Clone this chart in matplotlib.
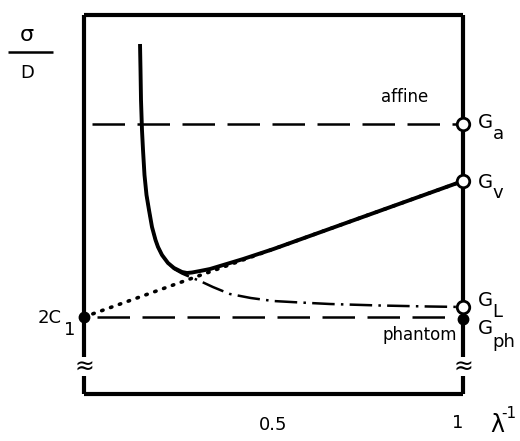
import matplotlib
matplotlib.use("Agg")
import matplotlib.pyplot as plt

# reduced stress vs inverse extension ratio (values in arbitrary units)
C2_1 = 77.0        # 2C1 intercept
G_ph = 77.0
G_L = 87.0
G_v = 213.0
G_a = 270.0

# measured curve (solid)
meas_x = [0.1478, 0.1491, 0.1504, 0.1530, 0.1557, 0.1596, 0.1649, 0.1715,
          0.1794, 0.1887, 0.1953, 0.2058, 0.2216, 0.2375, 0.2586, 0.2718,
          0.2850, 0.3061, 0.3325, 0.42, 0.50, 0.75, 1.00]
meas_y = [350, 324, 294, 264, 244, 219, 199, 184,
          167, 154, 147, 139, 131, 126, 122, 121,
          121.5, 123, 125, 135, 145, 179, 213]

# dash-dot curve (tends to G_L)
dd_x = [0.1649, 0.1715, 0.1794, 0.1887, 0.1953, 0.2058, 0.2216, 0.2375,
        0.2586, 0.280, 0.306, 0.340, 0.385, 0.440, 0.499, 0.570, 0.649,
        0.781, 0.910, 1.00]
dd_y = [199, 184, 167, 154, 147, 139, 131, 125,
        120.5, 117, 113, 107, 100, 96, 93, 91.5, 90,
        88.5, 87.5, 87]

# Mooney-Rivlin straight line (dotted)
mr_x = [0.0, 1.0]
mr_y = [C2_1, G_v]

fig = plt.figure(figsize=(5.2, 4.41), dpi=100)
ax = fig.add_axes([84 / 520, 47 / 441, 379 / 520, 379 / 441])
ax.set_xlim(0, 1)
ax.set_ylim(0, 379)
ax.axis("off")

k = dict(color="black", clip_on=False, solid_capstyle="butt")

# frame with breaks on the vertical axes
ax.plot([0, 1], [379, 379], lw=3, **k)
ax.plot([0, 1], [0, 0], lw=3, **k)
for xx in (0, 1):
    ax.plot([xx, xx], [379, 37], lw=3, **k)
    ax.plot([xx, xx], [18, 0], lw=3, **k)
    ax.text(xx, 27, "≈", fontsize=17, ha="center", va="center")

# reference lines
ax.plot([0.02, 0.985], [G_a, G_a], lw=1.8, dashes=(13, 5), **k)
ax.plot([0.035, 0.985], [G_ph, G_ph], lw=1.8, dashes=(13, 5), **k)

# curves
ax.plot(mr_x, mr_y, lw=2.6, linestyle=(0, (0.4, 2.2)), color="black",
        dash_capstyle="round", clip_on=False)
ax.plot(dd_x, dd_y, lw=1.8, linestyle=(0, (9, 2.5, 1, 2.5)), color="black",
        clip_on=False)
ax.plot(meas_x, meas_y, lw=2.8, color="black", clip_on=False,
        solid_joinstyle="round", solid_capstyle="butt")

# markers
for yy in (G_a, G_v, G_L):
    ax.plot(1, yy, "o", ms=9, mfc="white", mec="black", mew=2, clip_on=False)
ax.plot(1, G_ph - 2, "o", ms=7.5, color="black", clip_on=False)
ax.plot(0, C2_1, "o", ms=7.5, color="black", clip_on=False)

fs = 13
ax.text(0.847, 297, "affine", fontsize=12, ha="center", va="center")
ax.text(0.887, 59, "phantom", fontsize=12, ha="center", va="center")

# right labels
labels = [("a", G_a + 2, G_a - 10), ("v", G_v - 2, G_v - 12),
          ("L", 94, 82), ("ph", 66, 52)]
for sub, yg, ys in labels:
    ax.text(1.058, yg, "G", fontsize=fs + 1, ha="center", va="center")
    ax.text(1.078, ys, sub, fontsize=fs, ha="left", va="center")

# left labels
ax.text(-0.058, 76, "2C", fontsize=fs, ha="right", va="center")
ax.text(-0.037, 64, "1", fontsize=fs, ha="center", va="center")
ax.text(-0.150, 359, "σ", fontsize=fs + 3, ha="center", va="center")
ax.plot([-0.201, -0.082], [342, 342], lw=1.8, **k)
ax.text(-0.150, 321, "D", fontsize=fs, ha="center", va="center")

# x labels
ax.text(0.499, -31, "0.5", fontsize=fs, ha="center", va="center")
ax.text(0.987, -29, "1", fontsize=fs, ha="center", va="center")
ax.text(1.090, -31, "λ", fontsize=fs + 4, ha="center", va="center")
ax.text(1.122, -19, "-1", fontsize=fs - 2, ha="center", va="center")

fig.savefig("out.png", dpi=100)
